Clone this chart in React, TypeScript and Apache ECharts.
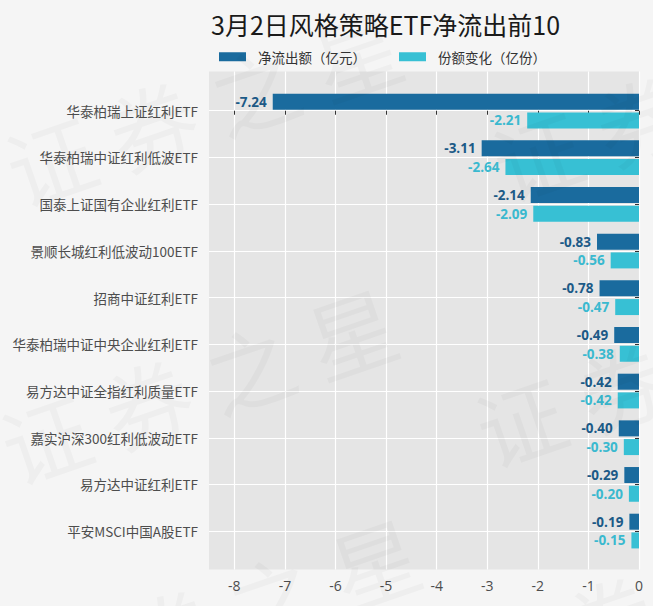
import React, { useEffect, useRef } from "react";
import * as echarts from "echarts";

const title = "3月2日风格策略ETF净流出前10";
const seriesNames = ["净流出额（亿元）", "份额变化（亿份）"];
const categories = [
  "华泰柏瑞上证红利ETF",
  "华泰柏瑞中证红利低波ETF",
  "国泰上证国有企业红利ETF",
  "景顺长城红利低波动100ETF",
  "招商中证红利ETF",
  "华泰柏瑞中证中央企业红利ETF",
  "易方达中证全指红利质量ETF",
  "嘉实沪深300红利低波动ETF",
  "易方达中证红利ETF",
  "平安MSCI中国A股ETF",
];
const netOutflow = [-7.24, -3.11, -2.14, -0.83, -0.78, -0.49, -0.42, -0.4, -0.29, -0.19];
const shareChange = [-2.21, -2.64, -2.09, -0.56, -0.47, -0.38, -0.42, -0.3, -0.2, -0.15];
const xTicks = [-8, -7, -6, -5, -4, -3, -2, -1, 0];
const watermarkText = "证券之星";

const CJK = '"Noto Sans CJK SC", "Noto Sans", sans-serif';
const NUM = '"Open Sans", "Noto Sans", sans-serif';

function watermark() {
  const centers = [
    [203, 105],
    [198, 383],
    [221, 613],
    [690, 100],
    [673, 366],
    [660, 600],
  ];
  const ang = (19 * Math.PI) / 180;
  const dx = Math.cos(ang);
  const dy = -Math.sin(ang);
  const step = 108;
  const els: any[] = [];
  centers.forEach(([cx, cy]) => {
    Array.from(watermarkText).forEach((ch, k) => {
      const off = (k - 1.5) * step;
      els.push({
        type: "text",
        x: cx + off * dx,
        y: cy + off * dy,
        rotation: ang,
        silent: true,
        z: 100,
        style: {
          text: ch,
          fontSize: 88,
          fontFamily: CJK,
          fill: "rgba(0,0,0,0.026)",
          align: "center",
          verticalAlign: "middle",
        },
      });
    });
  });
  return els;
}

export default function App() {
  const ref = useRef<HTMLDivElement>(null);
  useEffect(() => {
    if (!ref.current) return;
    const chart = echarts.init(ref.current, null, { renderer: "svg" });
    const labelBase = {
      show: true,
      position: "left",
      distance: 6,
      fontFamily: NUM,
      fontWeight: "bold",
      fontSize: 13.5,
      formatter: (p: any) => Number(p.value).toFixed(2),
    };
    chart.setOption({
      animation: false,
      backgroundColor: "#f5f5f5",
      title: {
        text: title,
        left: 206,
        top: 6,
        textStyle: { fontFamily: CJK, fontSize: 25, fontWeight: "normal", color: "#1a1a1a" },
      },
      legend: {
        left: 214,
        top: 45,
        itemWidth: 27,
        itemHeight: 9,
        itemGap: 33,
        icon: "rect",
        textStyle: { fontFamily: CJK, fontSize: 13.5, color: "#333333", padding: [0, 0, 0, 7] },
        data: seriesNames,
      },
      grid: [
        { left: 209, right: 14, top: 71.5, bottom: 36.5, show: true, backgroundColor: "#e5e5e5", borderWidth: 0, containLabel: false },
        { left: 209, right: 14, top: 87.7, bottom: 51.6, containLabel: false },
      ],
      xAxis: [
        {
          type: "value",
          gridIndex: 0,
          min: -8.5,
          max: 0,
          axisLine: { show: false },
          axisTick: { show: true, length: 4, lineStyle: { color: "#333333" }, customValues: xTicks },
          axisLabel: { customValues: xTicks, color: "#4d4d4d", fontSize: 14, fontFamily: NUM, margin: 9 },
          splitLine: { show: true, lineStyle: { color: "#ffffff", width: 1.2 } },
        },
        { type: "value", gridIndex: 1, min: -8.5, max: 0, show: false },
      ],
      yAxis: [
        {
          type: "value",
          gridIndex: 0,
          inverse: true,
          min: -0.84,
          max: 9.82,
          axisLine: { show: false },
          axisTick: { show: true, length: 4, lineStyle: { color: "#333333" }, customValues: categories.map((_, i) => i) },
          axisLabel: {
            customValues: categories.map((_, i) => i),
            formatter: (v: number) => categories[Math.round(v)] ?? "",
            color: "#4d4d4d",
            fontSize: 13.5,
            fontFamily: CJK,
            margin: 11,
          },
          splitLine: { show: true, lineStyle: { color: "#ffffff", width: 1.2 } },
        },
        { type: "category", gridIndex: 1, inverse: true, data: categories, show: false },
      ],
      series: [
        {
          name: seriesNames[0],
          type: "bar",
          xAxisIndex: 1,
          yAxisIndex: 1,
          data: netOutflow,
          barWidth: 16,
          barGap: "17%",
          itemStyle: { color: "#1a6b9e" },
          label: { ...labelBase, color: "#1c5a87" },
        },
        {
          name: seriesNames[1],
          type: "bar",
          xAxisIndex: 1,
          yAxisIndex: 1,
          data: shareChange,
          barWidth: 16,
          barGap: "17%",
          itemStyle: { color: "#37c0d4" },
          label: { ...labelBase, color: "#3ab9cf" },
        },
      ],
      graphic: watermark(),
    });
    return () => chart.dispose();
  }, []);
  return <div ref={ref} style={{ position: "fixed", left: 0, top: 0, width: 653, height: 606 }} />;
}
